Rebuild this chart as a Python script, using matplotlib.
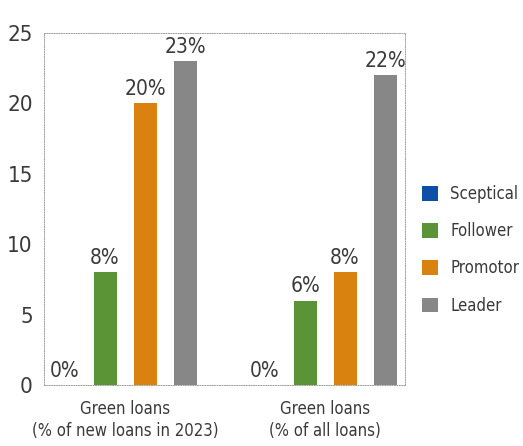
import numpy as np
import matplotlib.pyplot as plt

categories = ["Green loans\n(% of new loans in 2023)", "Green loans\n(% of all loans)"]
series = ["Sceptical", "Follower", "Promotor", "Leader"]
values = {
    "Sceptical": [0, 0],
    "Follower": [8, 6],
    "Promotor": [20, 8],
    "Leader": [23, 22],
}
colors = ["#0d4ea6", "#5b9436", "#d9820f", "#878787"]

plt.rcParams["font.family"] = ["DejaVu Sans"]
plt.rcParams["font.stretch"] = "condensed"
text_color = "#3a3a3a"

fig = plt.figure(figsize=(5.23, 4.46), dpi=100)
ax = fig.add_axes([44 / 523, 1 - 385 / 446, 361 / 523, 352 / 446])

x = np.arange(len(categories))
width = 0.115
step = 0.2
for i, (name, col) in enumerate(zip(series, colors)):
    pos = x + (i - 1.5) * step
    bars = ax.bar(pos, values[name], width, color=col, label=name)
    for b, v in zip(bars, values[name]):
        ax.text(b.get_x() + b.get_width() / 2, v + 0.3, f"{v:.0f}%",
                ha="center", va="bottom", fontsize=15, color=text_color)

ax.set_xlim(-0.405, 1.4)
ax.set_ylim(0, 25)
ax.set_yticks([0, 5, 10, 15, 20, 25])
ax.set_xticks(x)
ax.set_xticklabels(categories, fontsize=12, color=text_color, linespacing=1.25)
ax.tick_params(axis="y", length=0, pad=8, labelsize=16, labelcolor=text_color)
ax.tick_params(axis="x", length=0, pad=11)
for s in ax.spines.values():
    s.set_linestyle((0, (1, 1.5)))
    s.set_color("#a0a0a0")
    s.set_linewidth(0.7)

leg = ax.legend(loc="upper left", bbox_to_anchor=(1.028, 0.587), frameon=False,
                fontsize=12, handlelength=0.95, handleheight=0.95,
                handletextpad=0.75, labelspacing=1.15, borderaxespad=0)
for t in leg.get_texts():
    t.set_color(text_color)

fig.savefig("out.png", dpi=100)
